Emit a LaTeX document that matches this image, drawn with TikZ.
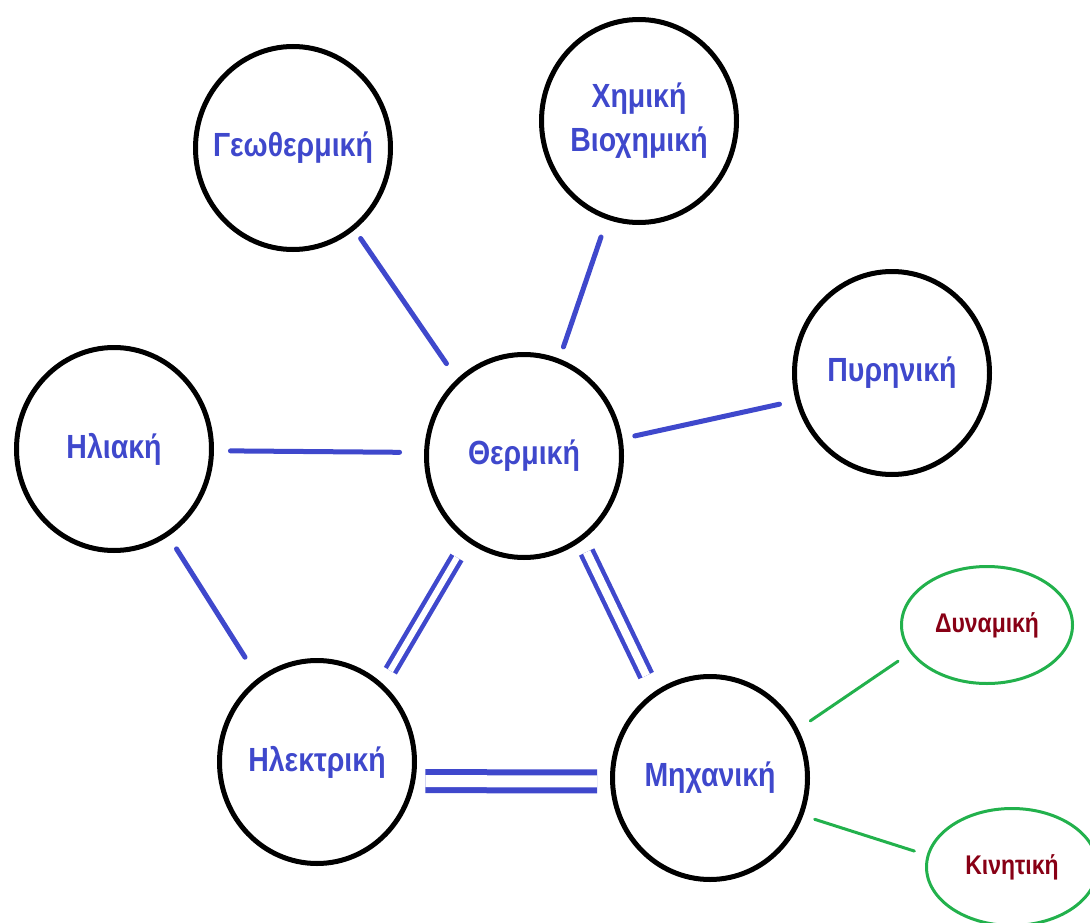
\documentclass[tikz,border=0pt]{standalone}
\usepackage{fontspec}
\newfontfamily\grfont[FakeStretch=0.85]{Liberation Sans}
\usetikzlibrary{shapes.geometric}
\definecolor{paintblue}{RGB}{63,72,204}
\definecolor{paintgreen}{RGB}{34,177,76}
\definecolor{paintred}{RGB}{136,0,21}
\tikzstyle{orb} = [
    ellipse,
    draw=black,
    line width=5pt,
    inner sep=0pt,
    minimum width=195pt,
    minimum height=203pt
]
\tikzstyle{sub} = [
    ellipse,
    draw=paintgreen,
    line width=3pt,
    text=paintred,
    font=\grfont\bfseries\fontsize{27}{31}\selectfont,
    minimum width=171pt,
    minimum height=117pt
]
\tikzstyle{bluetxt} = [
    text=paintblue,
    font=\grfont\bfseries\fontsize{33.5}{44}\selectfont,
    align=center
]
\tikzstyle{link} = [draw=paintblue, line width=5pt, line cap=round]
\tikzstyle{dbl} = [draw=paintblue, line width=4.5pt, line cap=butt, double=white]
\tikzstyle{twig} = [draw=paintgreen, line width=3pt, line cap=round]

\begin{document}
\begin{tikzpicture}[x=1pt, y=-1pt]
\useasboundingbox (0,0) rectangle (1090,923);
\clip (0,0) rectangle (1090,923);

% forms of energy
\node [orb, label={[bluetxt]center:Γεωθερμική}] (geo) at (293,148) {};
\node [orb, label={[bluetxt]center:{Χημική\\Βιοχημική}}] (chem) at (639,121) {};
\node [orb, label={[bluetxt]center:Πυρηνική}] (pyr) at (892,373) {};
\node [orb, label={[bluetxt]center:Ηλιακή}] (sol) at (114,449) {};
\node [orb, label={[bluetxt]center:Θερμική}] (therm) at (524,456) {};
\node [orb, label={[bluetxt]center:Ηλεκτρική}] (elec) at (317,762) {};
\node [orb, label={[bluetxt]center:Μηχανική}] (mech) at (710,778) {};
\node [sub] (dyn) at (987,625) {Δυναμική};
\node [sub] (kin) at (1012,867) {Κινητική};

% single links
\draw [link, shorten <=10.5pt, shorten >=18.5pt] (geo.-53) -- (therm.131);
\draw [link, shorten <=18.5pt, shorten >=12.5pt] (chem.-108) -- (therm.70);
\draw [link, shorten <=12.5pt, shorten >=16.5pt] (therm.10) -- (pyr.196);
\draw [link, shorten <=16.5pt, shorten >=24.5pt] (sol.-1.5) -- (therm.178);
\draw [link, shorten <=15pt, shorten >=24.5pt] (sol.-58) -- (elec.125);

% double links
\draw [dbl, double distance=6pt, shorten <=19pt, shorten >=15pt] (therm.236) -- (elec.50);
\draw [dbl, double distance=8pt, shorten <=12pt, shorten >=18pt] (therm.-56) -- (mech.123);
\draw [dbl, line width=6pt, double distance=12pt, shorten <=10pt, shorten >=13pt] (elec.-11.5) -- (mech.182.5);

% kinds of mechanical energy
\draw [twig, shorten <=14.5pt, shorten >=14.5pt] (mech.29) -- (dyn.200);
\draw [twig, shorten <=12pt, shorten >=13pt] (mech.-22) -- (kin.172);
\end{tikzpicture}
\end{document}
